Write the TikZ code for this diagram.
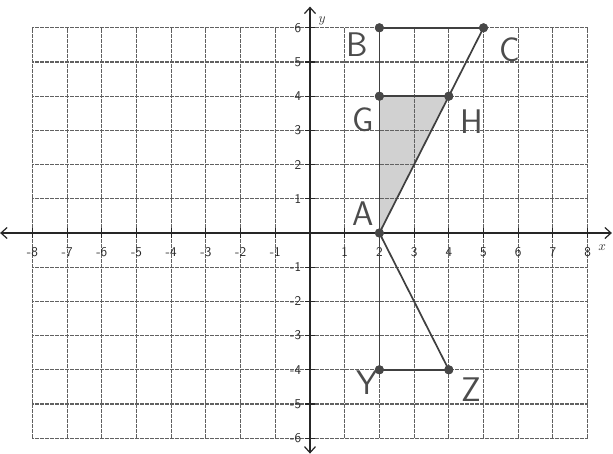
\documentclass[tikz,border=0pt]{standalone}
\usetikzlibrary{arrows.meta}
\begin{document}
\begin{tikzpicture}[x=1cm,y=0.9856cm,
  gridline/.style={black!62, line width=0.95pt, dash pattern=on 1.6pt off 0.45pt},
  axisline/.style={black!85, line width=1pt},
  tickmark/.style={black!85, line width=0.9pt},
  seg/.style={black!75, line width=1.4pt},
  dot/.style={circle, fill=black!72, inner sep=0pt, minimum size=0.26cm},
  ptlabel/.style={font=\sffamily\fontsize{28}{28}\selectfont, text=black!70},
  ticklab/.style={font=\sffamily\fontsize{11}{11}\selectfont, inner sep=0pt, text=black!85},
  axlab/.style={font=\fontsize{11}{11}\selectfont, inner sep=0pt, text=black!80}
]
\useasboundingbox (-8.934,-6.462) rectangle (8.732,6.813);
% shaded triangle
\fill[black!18] (2,4) -- (4,4) -- (2,0) -- cycle;
% grid
\foreach \i in {-8,...,8} {\draw[gridline] (\i,-6) -- (\i,6);}
\foreach \j in {-6,...,6} {\draw[gridline] (-8,\j) -- (8,\j);}
% axes
\coordinate (xl) at (-8.93,0);
\coordinate (xr) at (8.70,0);
\coordinate (yb) at (0,-6.45);
\coordinate (yt) at (0,6.62);
\draw[axisline, {Straight Barb[length=5pt,width=9pt]}-{Straight Barb[length=5pt,width=9pt]}] (xl) -- (xr);
\draw[axisline, {Straight Barb[length=5pt,width=9pt]}-{Straight Barb[length=5pt,width=9pt]}] (yb) -- (yt);
\foreach \i in {-8,...,-1,1,2,...,8} {\draw[tickmark] (\i,-0.15) -- (\i,0.15);}
\foreach \j in {-6,...,-1,1,2,...,6} {\draw[tickmark] (-0.15,\j) -- (0.15,\j);}
% tick labels
\foreach \i in {-8,...,-1,1,2,...,8} {\node[ticklab] (tx\i) at (\i,-0.56) {\i};}
\foreach \j in {-6,...,-1,1,2,...,6} {\node[ticklab, anchor=east] (ty\j) at (-0.25,\j) {\j};}
\node[axlab] (ylab) at (0.35,6.2) {$y$};
\node[axlab] (xlab) at (8.42,-0.42) {$x$};
% points
\node[dot] (B) at (2,6) {};
\node[dot] (C) at (5,6) {};
\node[dot] (G) at (2,4) {};
\node[dot] (H) at (4,4) {};
\node[dot] (A) at (2,0) {};
\node[dot] (Y) at (2,-4) {};
\node[dot] (Z) at (4,-4) {};
% segments
\draw[seg] (B.center) -- (C.center);
\draw[seg] (B.center) -- (G.center);
\draw[seg] (G.center) -- (A.center);
\draw[seg] (A.center) -- (Y.center);
\draw[seg] (G.center) -- (H.center);
\draw[seg] (A.center) -- (H.center);
\draw[seg] (H.center) -- (C.center);
\draw[seg] (A.center) -- (Z.center);
\draw[seg] (Y.center) -- (Z.center);
\node[dot] at (B) {};
\node[dot] at (C) {};
\node[dot] at (G) {};
\node[dot] at (H) {};
\node[dot] at (A) {};
\node[dot] at (Y) {};
\node[dot] at (Z) {};
% labels
\node[ptlabel] (lB) at (1.35,5.5) {B};
\node[ptlabel] (lC) at (5.76,5.35) {C};
\node[ptlabel] (lG) at (1.53,3.3) {G};
\node[ptlabel] (lH) at (4.67,3.25) {H};
\node[ptlabel] (lA) at (1.53,0.58) {A};
\node[ptlabel] (lY) at (1.64,-4.39) {Y};
\node[ptlabel] (lZ) at (4.64,-4.59) {Z};
\end{tikzpicture}
\end{document}
